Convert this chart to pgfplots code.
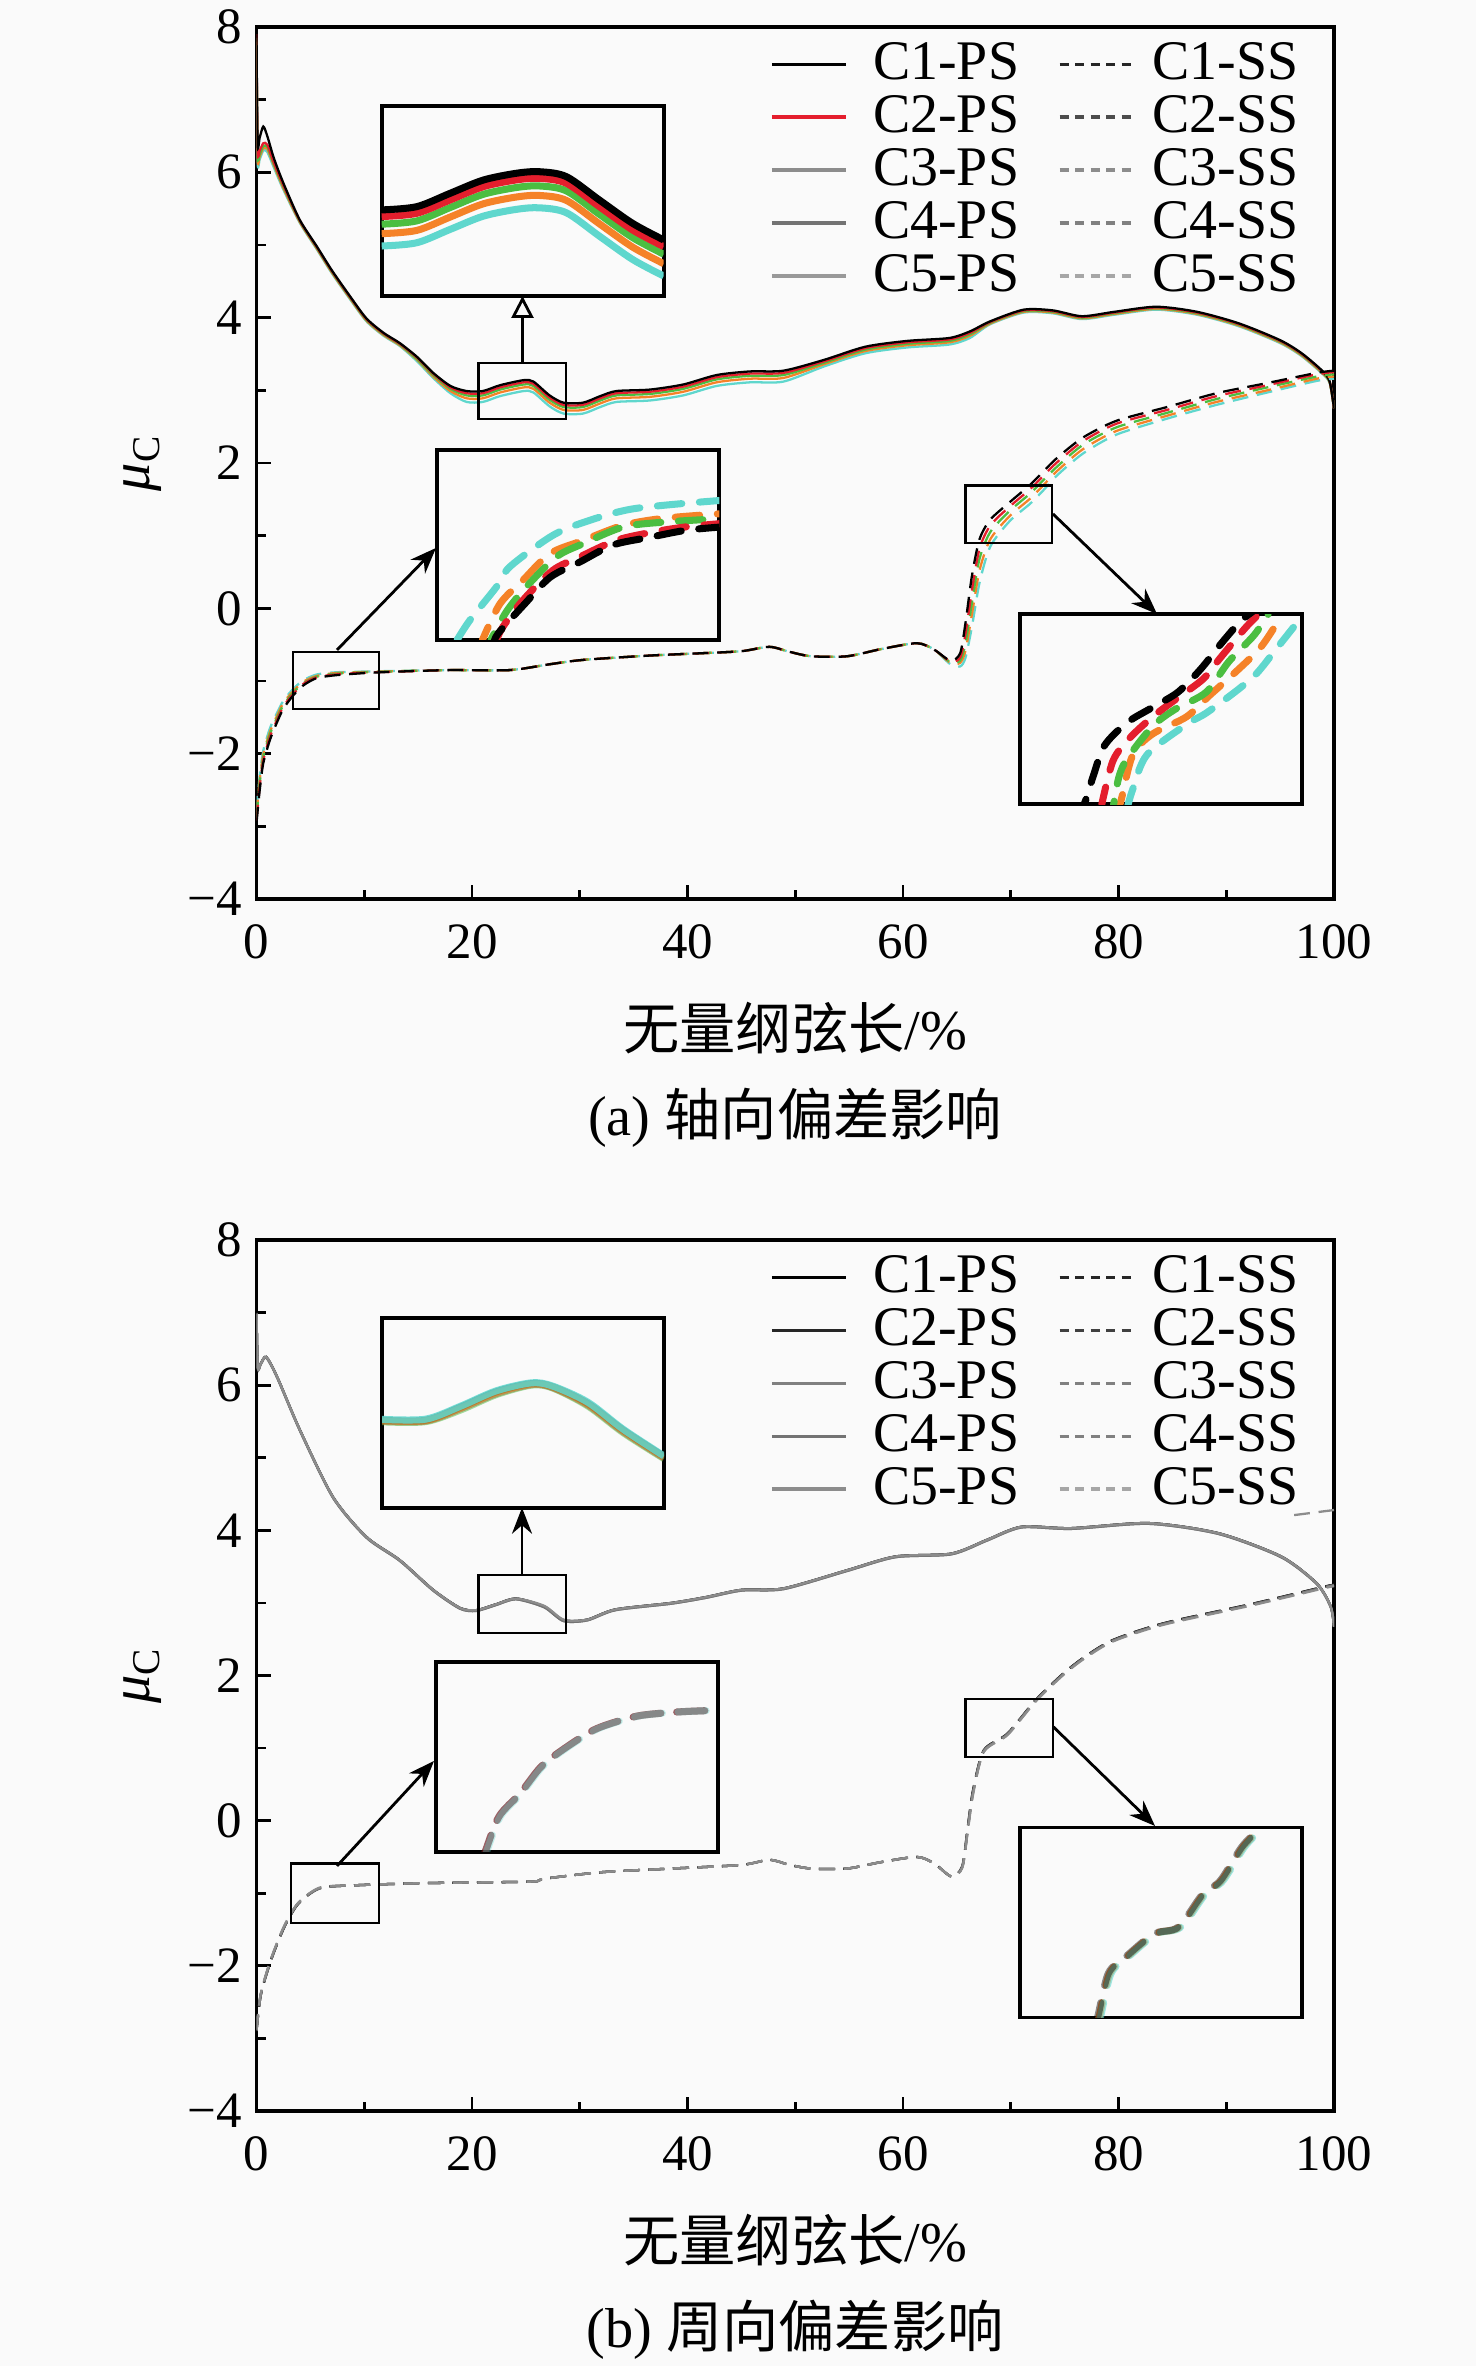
\documentclass[border=0pt]{standalone}
\usepackage{fontspec}
\setmainfont{Liberation Serif}
\newfontfamily\cjk{Noto Sans CJK SC}
\usepackage{pgfplots}
\pgfplotsset{compat=1.18}
\usepackage{pgfplotstable}
\usetikzlibrary{arrows.meta}

\definecolor{bg}{RGB}{250,250,250}
\definecolor{cA}{RGB}{0,0,0}
\definecolor{cB}{RGB}{228,30,45}
\definecolor{cC}{RGB}{75,190,65}
\definecolor{cD}{RGB}{245,130,40}
\definecolor{cE}{RGB}{95,215,205}

\newcommand{\fs}{\fontsize{16}{19}\selectfont}
\newcommand{\fl}{\fontsize{15.9}{19}\selectfont}
\newcommand{\ft}{\fontsize{14.5}{17}\selectfont}

% ---------------- (a) pressure side ----------------
\pgfplotstableread{
x c1 c2 c3 c4 c5
0 7.95 7.90 7.85 7.80 7.75
0.1 6.40 6.30 6.25 6.20 6.15
0.3 6.48 6.30 6.25 6.22 6.18
0.63 6.63 6.40 6.36 6.33 6.30
1.0 6.50 6.38 6.35 6.32 6.28
1.6 6.20 6.14 6.12 6.10 6.07
2.5 5.85 5.82 5.80 5.78 5.76
4 5.35 5.34 5.33 5.32 5.31
5.6 4.98 4.97 4.96 4.95 4.94
7 4.65 4.64 4.63 4.62 4.61
8.7 4.29 4.28 4.27 4.26 4.25
10.2 3.99 3.98 3.97 3.96 3.95
11.8 3.79 3.78 3.77 3.76 3.75
13.3 3.65 3.64 3.63 3.62 3.61
14.9 3.46 3.45 3.43 3.42 3.40
16.4 3.24 3.23 3.21 3.19 3.17
18 3.06 3.04 3.02 2.99 2.96
19.5 2.99 2.96 2.93 2.89 2.84
21 2.99 2.96 2.93 2.89 2.84
22.6 3.07 3.04 3.01 2.97 2.92
24.8 3.14 3.11 3.08 3.04 2.99
25.7 3.12 3.09 3.06 3.02 2.97
27.2 2.93 2.90 2.87 2.83 2.78
28.5 2.83 2.80 2.77 2.73 2.68
30.3 2.83 2.80 2.77 2.73 2.68
31.9 2.92 2.89 2.86 2.82 2.77
33.4 2.99 2.96 2.93 2.89 2.84
36.5 3.01 2.98 2.95 2.91 2.86
39.6 3.08 3.05 3.02 2.98 2.93
42.7 3.21 3.18 3.15 3.11 3.06
45.8 3.26 3.23 3.20 3.16 3.11
48.9 3.27 3.24 3.21 3.17 3.12
52.7 3.42 3.40 3.38 3.36 3.33
56.5 3.60 3.58 3.56 3.54 3.51
60.4 3.68 3.66 3.64 3.62 3.59
64.3 3.72 3.70 3.68 3.66 3.63
66.2 3.81 3.79 3.77 3.75 3.72
68.1 3.95 3.94 3.93 3.92 3.91
71.2 4.11 4.10 4.09 4.08 4.07
73.9 4.10 4.09 4.08 4.07 4.06
76.6 4.02 4.01 4.00 3.99 3.98
79.6 4.08 4.07 4.06 4.05 4.04
83.5 4.15 4.14 4.13 4.12 4.11
87.3 4.08 4.07 4.06 4.05 4.04
91.2 3.92 3.91 3.90 3.89 3.88
95 3.69 3.68 3.67 3.66 3.65
97 3.51 3.50 3.49 3.48 3.47
98.9 3.27 3.26 3.25 3.24 3.23
99.6 3.12 3.12 3.11 3.11 3.10
100 2.75 2.75 2.75 2.75 2.75
}\psA

% ---------------- (a) suction side ----------------
\pgfplotstableread{
x c1 c2 c3 c4 c5
0 -2.95 -2.92 -2.88 -2.85 -2.80
0.3 -2.50 -2.45 -2.40 -2.36 -2.30
0.63 -2.13 -2.09 -2.05 -2.01 -1.96
1.25 -1.81 -1.77 -1.73 -1.70 -1.65
1.87 -1.58 -1.55 -1.52 -1.49 -1.45
2.5 -1.38 -1.35 -1.33 -1.30 -1.27
3.4 -1.20 -1.18 -1.16 -1.14 -1.11
4.35 -1.06 -1.04 -1.03 -1.01 -0.99
5.6 -0.96 -0.95 -0.94 -0.93 -0.91
7.4 -0.92 -0.91 -0.90 -0.89 -0.88
10.2 -0.89 -0.885 -0.88 -0.875 -0.87
13.3 -0.87 -0.87 -0.865 -0.865 -0.86
18 -0.85 -0.85 -0.85 -0.85 -0.85
23.5 -0.85 -0.85 -0.85 -0.85 -0.85
27.2 -0.77 -0.77 -0.77 -0.77 -0.77
30.3 -0.71 -0.71 -0.71 -0.71 -0.71
36.5 -0.65 -0.65 -0.65 -0.65 -0.65
41 -0.62 -0.62 -0.62 -0.62 -0.62
45 -0.59 -0.59 -0.59 -0.59 -0.59
47.6 -0.53 -0.53 -0.53 -0.53 -0.53
49.5 -0.60 -0.60 -0.60 -0.60 -0.60
51.5 -0.66 -0.66 -0.66 -0.66 -0.66
54.8 -0.66 -0.66 -0.66 -0.66 -0.66
58 -0.56 -0.56 -0.56 -0.56 -0.56
61.3 -0.48 -0.48 -0.48 -0.48 -0.48
62.9 -0.57 -0.57 -0.57 -0.57 -0.57
64.4 -0.72 -0.73 -0.74 -0.75 -0.77
65.3 -0.62 -0.68 -0.72 -0.75 -0.80
65.8 -0.20 -0.35 -0.48 -0.58 -0.68
66.4 0.45 0.25 0.08 -0.08 -0.25
67.1 0.95 0.82 0.68 0.52 0.35
68.1 1.22 1.14 1.05 0.95 0.85
69.9 1.46 1.40 1.34 1.27 1.20
71.8 1.70 1.64 1.58 1.51 1.44
73 1.88 1.82 1.76 1.69 1.62
74.3 2.07 2.01 1.95 1.89 1.83
76.7 2.35 2.30 2.25 2.19 2.13
79.8 2.58 2.54 2.49 2.44 2.39
84.5 2.77 2.73 2.69 2.65 2.61
89.1 2.96 2.92 2.88 2.84 2.80
93.8 3.10 3.07 3.04 3.00 2.97
98.4 3.24 3.22 3.19 3.16 3.13
100 3.27 3.25 3.22 3.19 3.16
}\ssA

% ---------------- (b) pressure side ----------------
\pgfplotstableread{
x c1 c2 c3 c4 c5
0 7.00 7.00 6.99 6.99 6.98
0.12 6.25 6.25 6.24 6.24 6.25
0.4 6.30 6.30 6.29 6.29 6.30
0.9 6.39 6.39 6.38 6.38 6.39
1.9 6.12 6.12 6.11 6.11 6.12
4.04 5.38 5.38 5.37 5.37 5.38
7.1 4.46 4.46 4.45 4.45 4.46
10.2 3.91 3.91 3.90 3.90 3.91
13.3 3.59 3.59 3.58 3.58 3.59
16.4 3.18 3.18 3.17 3.17 3.18
18.9 2.93 2.93 2.92 2.92 2.93
20.4 2.90 2.90 2.89 2.89 2.90
22.2 2.98 2.98 2.97 2.97 2.98
24.1 3.06 3.06 3.05 3.05 3.06
26.7 2.95 2.95 2.94 2.94 2.96
28.5 2.76 2.76 2.75 2.75 2.77
30.7 2.77 2.77 2.76 2.76 2.77
33.3 2.91 2.91 2.90 2.90 2.91
38.5 3.00 3.00 2.99 2.99 3.00
41.7 3.08 3.08 3.07 3.07 3.08
45 3.18 3.18 3.17 3.17 3.18
48.9 3.20 3.20 3.19 3.19 3.20
54.8 3.45 3.45 3.44 3.44 3.45
59.3 3.64 3.64 3.63 3.63 3.64
64.5 3.68 3.68 3.67 3.67 3.68
67.8 3.87 3.87 3.86 3.86 3.87
71 4.05 4.05 4.04 4.04 4.05
75.6 4.03 4.03 4.02 4.02 4.03
82.8 4.10 4.10 4.09 4.09 4.10
89.3 3.96 3.96 3.95 3.95 3.96
95.1 3.64 3.64 3.63 3.63 3.64
98.4 3.27 3.27 3.26 3.26 3.27
99.7 2.95 2.95 2.94 2.94 2.95
100 2.67 2.67 2.67 2.67 2.67
}\psB

% ---------------- (b) suction side ----------------
\pgfplotstableread{
x c1 c2 c3 c4 c5
0 -2.90 -2.90 -2.89 -2.89 -2.88
0.4 -2.40 -2.40 -2.39 -2.39 -2.38
1.35 -1.92 -1.92 -1.91 -1.91 -1.90
2.6 -1.46 -1.46 -1.45 -1.45 -1.44
3.9 -1.14 -1.14 -1.13 -1.13 -1.13
5.9 -0.93 -0.93 -0.93 -0.93 -0.92
9.2 -0.89 -0.89 -0.89 -0.89 -0.89
15.7 -0.86 -0.86 -0.86 -0.86 -0.86
25.4 -0.84 -0.84 -0.84 -0.84 -0.84
26.7 -0.80 -0.80 -0.80 -0.80 -0.80
32 -0.71 -0.71 -0.71 -0.71 -0.71
38.5 -0.66 -0.66 -0.66 -0.66 -0.66
45 -0.61 -0.61 -0.61 -0.61 -0.61
47.6 -0.54 -0.54 -0.54 -0.54 -0.54
49.5 -0.61 -0.61 -0.61 -0.61 -0.61
51.5 -0.66 -0.66 -0.66 -0.66 -0.66
54.8 -0.66 -0.66 -0.66 -0.66 -0.66
58 -0.57 -0.57 -0.57 -0.57 -0.57
61.3 -0.50 -0.50 -0.50 -0.50 -0.50
62.9 -0.59 -0.59 -0.59 -0.59 -0.59
64.5 -0.77 -0.77 -0.77 -0.77 -0.77
65.5 -0.63 -0.63 -0.64 -0.64 -0.65
66 -0.10 -0.11 -0.13 -0.14 -0.16
66.5 0.42 0.41 0.39 0.38 0.36
67.5 0.97 0.97 0.96 0.95 0.95
69.7 1.20 1.20 1.19 1.19 1.18
72.3 1.66 1.66 1.65 1.65 1.64
74.9 2.03 2.03 2.02 2.02 2.01
76.9 2.26 2.26 2.25 2.25 2.24
79.5 2.49 2.49 2.48 2.48 2.47
84.2 2.72 2.72 2.71 2.71 2.70
92.5 2.99 2.99 2.98 2.98 2.97
99 3.22 3.22 3.21 3.21 3.20
100 3.25 3.25 3.24 3.24 3.23
}\ssB

% ---------------- inset tables (normalised inset coordinates) ----------------
\pgfplotstableread{
fx c1 c2 c3 c4 c5
0 0.453 0.418 0.378 0.328 0.263
0.124 0.470 0.435 0.395 0.345 0.280
0.242 0.540 0.505 0.465 0.415 0.350
0.360 0.610 0.575 0.535 0.485 0.420
0.478 0.646 0.611 0.571 0.521 0.456
0.560 0.654 0.619 0.579 0.529 0.464
0.655 0.628 0.593 0.553 0.503 0.438
0.772 0.505 0.470 0.430 0.380 0.315
0.890 0.382 0.347 0.307 0.257 0.192
1.000 0.295 0.260 0.220 0.170 0.105
}\insAa

\pgfplotstableread{
fx c1 c2 c3 c4 c5
0 0.460 0.455 0.452 0.458 0.465
0.155 0.460 0.456 0.453 0.458 0.466
0.28 0.530 0.522 0.515 0.525 0.535
0.405 0.610 0.600 0.595 0.605 0.615
0.53 0.653 0.648 0.645 0.650 0.657
0.605 0.636 0.632 0.630 0.635 0.640
0.73 0.548 0.540 0.535 0.545 0.555
0.855 0.408 0.400 0.395 0.405 0.413
1 0.268 0.262 0.258 0.265 0.272
}\insBa

\pgfplotsset{
  mainax/.style={
    scale only axis, width=10.775cm, height=8.72cm, anchor=south west,
    xmin=0, xmax=100, ymin=-4, ymax=8,
    xtick={0,20,...,100}, minor x tick num=1,
    ytick={-4,-2,...,8}, yticklabels={−4,−2,0,2,4,6,8}, minor y tick num=1,
    tick align=inside, xtick pos=left, ytick pos=left,
    major tick length=1.4mm, minor tick length=0.9mm,
    every tick/.style={black, line width=0.8pt},
    axis line style={line width=0.9pt},
    tick label style={font=\ft},
    /pgf/number format/assume math mode=true,
    xticklabel style={yshift=-1.3mm},
    yticklabel style={xshift=-0.25mm},
    xlabel style={at={(0.5,-0.148)}, anchor=center, font=\fs},
    ylabel style={at={(-0.1053,0.5)}, anchor=center, font=\fs},
    legend columns=2, legend cell align=left,
    legend style={draw=none, fill=none, at={(0.9675,0.9825)}, anchor=north east,
      font=\fl, inner sep=0pt, row sep=3.05pt,
      nodes={inner sep=0pt},
      /tikz/column 1/.style={column sep=2.57mm},
      /tikz/column 2/.style={column sep=3.9mm},
      /tikz/column 3/.style={column sep=1.7mm}},
    legend image code/.code={\draw[##1] (0mm,0mm) -- (7.4mm,0mm);},
  },
  psM/.style={line width=0.65pt, smooth, tension=0.45, forget plot, no markers},
  ssM/.style={line width=0.65pt, dash pattern=on 4.5pt off 2.5pt, smooth, tension=0.45, forget plot, no markers},
  lgP/.style={line width=0.9pt, solid},
  lgS/.style={line width=0.9pt, dash pattern=on 2.6pt off 1.8pt},
  inax/.style={scale only axis, width=2.82cm, height=1.90cm, anchor=south west,
    xmin=0, xmax=1, ymin=0, ymax=1, ticks=none,
    axis line style={line width=1.1pt}, axis background/.style={fill=bg}},
  inP/.style={line width=2pt, smooth, tension=0.5, no markers},
  inS/.style={line width=2pt, line cap=round, dash pattern=on 7pt off 5pt, smooth, tension=0.5, no markers},
}

\begin{document}
\begin{tikzpicture}
\fill[bg] (0,0) rectangle (14.76,23.66);
\path[use as bounding box] (0,0) rectangle (14.76,23.66);

% =================== (a) ===================
\begin{axis}[mainax, at={(2.565cm,14.67cm)},
  xlabel={{\cjk 无量纲弦长}/\%}, ylabel={{\itshape μ}\textsubscript{C}}]
\addlegendimage{lgP, black}\addlegendentry{C1-PS}
\addlegendimage{lgS, black!85}\addlegendentry{C1-SS}
\addlegendimage{lgP, cB}\addlegendentry{C2-PS}
\addlegendimage{lgS, black!70}\addlegendentry{C2-SS}
\addlegendimage{lgP, black!45}\addlegendentry{C3-PS}
\addlegendimage{lgS, black!45}\addlegendentry{C3-SS}
\addlegendimage{lgP, black!55}\addlegendentry{C4-PS}
\addlegendimage{lgS, black!50}\addlegendentry{C4-SS}
\addlegendimage{lgP, black!40}\addlegendentry{C5-PS}
\addlegendimage{lgS, black!35}\addlegendentry{C5-SS}
\addplot[psM, cE] table[x=x, y=c5] {\psA};
\addplot[psM, cD] table[x=x, y=c4] {\psA};
\addplot[psM, cC] table[x=x, y=c3] {\psA};
\addplot[psM, cB] table[x=x, y=c2] {\psA};
\addplot[psM, cA] table[x=x, y=c1] {\psA};
\addplot[ssM, cE] table[x=x, y=c5] {\ssA};
\addplot[ssM, cD] table[x=x, y=c4] {\ssA};
\addplot[ssM, cC] table[x=x, y=c3] {\ssA};
\addplot[ssM, cB] table[x=x, y=c2] {\ssA};
\addplot[ssM, cA] table[x=x, y=c1] {\ssA};
\draw[line width=0.6pt] (axis cs:20.6,2.60) rectangle (axis cs:28.7,3.37);
\draw[line width=0.6pt] (axis cs:3.36,-1.39) rectangle (axis cs:11.35,-0.60);
\draw[line width=0.6pt] (axis cs:65.8,0.90) rectangle (axis cs:73.8,1.69);
\end{axis}

% inset a1 (pressure side bump)
\begin{axis}[inax, at={(3.817cm,20.70cm)}]
\addplot[inP, cE] table[x=fx, y=c5] {\insAa};
\addplot[inP, cD] table[x=fx, y=c4] {\insAa};
\addplot[inP, cC] table[x=fx, y=c3] {\insAa};
\addplot[inP, cB] table[x=fx, y=c2] {\insAa};
\addplot[inP, cA] table[x=fx, y=c1] {\insAa};
\end{axis}

% inset a2 (suction side, leading edge)
\begin{axis}[inax, at={(4.373cm,17.26cm)}]
\addplot[inS, cE] coordinates {(0.07,0.0) (0.116,0.105) (0.21,0.28) (0.257,0.385) (0.40,0.542) (0.505,0.612) (0.693,0.69) (1,0.734)};
\addplot[inS, cD, dash phase=3pt] coordinates {(0.16,0.0) (0.222,0.19) (0.304,0.315) (0.40,0.455) (0.517,0.524) (0.658,0.603) (0.8,0.64) (1,0.664)};
\addplot[inS, cC, dash phase=5pt] coordinates {(0.19,0.0) (0.245,0.149) (0.316,0.28) (0.422,0.437) (0.517,0.507) (0.658,0.594) (0.8,0.62) (1,0.638)};
\addplot[inS, cB, dash phase=1pt] coordinates {(0.21,0.0) (0.233,0.07) (0.304,0.21) (0.41,0.367) (0.505,0.437) (0.634,0.524) (0.764,0.568) (0.88,0.595) (1,0.612)};
\addplot[inS, cA, dash phase=2pt] coordinates {(0.20,-0.02) (0.216,0.035) (0.31,0.19) (0.40,0.33) (0.505,0.41) (0.623,0.50) (0.752,0.54) (0.88,0.577) (1,0.594)};
\end{axis}

% inset a3 (suction side, shock region)
\begin{axis}[inax, at={(10.20cm,15.617cm)}]
\addplot[inS, cE, dash pattern=on 6pt off 5pt] coordinates {(0.38,-0.02) (0.40,0.08) (0.45,0.26) (0.59,0.42) (0.66,0.48) (0.77,0.60) (0.84,0.69) (0.91,0.82) (0.98,0.95) (1.0,0.98)};
\addplot[inS, cD, dash pattern=on 6pt off 5pt, dash phase=2pt] coordinates {(0.35,-0.02) (0.36,0.03) (0.40,0.26) (0.47,0.37) (0.59,0.46) (0.67,0.57) (0.76,0.69) (0.85,0.82) (0.91,0.95) (0.93,1.0)};
\addplot[inS, cC, dash pattern=on 6pt off 5pt, dash phase=4pt] coordinates {(0.33,-0.02) (0.35,0.14) (0.38,0.24) (0.47,0.41) (0.55,0.50) (0.66,0.59) (0.74,0.75) (0.83,0.89) (0.88,1.0)};
\addplot[inS, cB, dash pattern=on 6pt off 5pt, dash phase=1pt] coordinates {(0.29,0.0) (0.33,0.23) (0.39,0.35) (0.47,0.46) (0.55,0.55) (0.65,0.66) (0.71,0.77) (0.80,0.93) (0.86,1.02)};
\addplot[inS, cA, dash pattern=on 6pt off 5pt, dash phase=3pt] coordinates {(0.215,-0.02) (0.23,0.01) (0.26,0.15) (0.30,0.31) (0.38,0.43) (0.47,0.51) (0.56,0.59) (0.64,0.71) (0.71,0.84) (0.78,0.96) (0.83,1.02)};
\end{axis}

\draw[line width=0.8pt, -{Triangle[open, length=2.2mm, width=2.2mm]}] (5.225,20.03) -- (5.225,20.70);
\draw[line width=0.8pt, -{Stealth[length=2.6mm, width=2mm]}] (3.37,17.16) -- (4.36,18.18);
\draw[line width=0.8pt, -{Stealth[length=2.6mm, width=2mm]}] (10.53,18.52) -- (11.57,17.52);
\node[font=\fs] at (7.95,12.48) {(a) {\cjk 轴向偏差影响}};

% =================== (b) ===================
\begin{axis}[mainax, at={(2.565cm,2.55cm)}, height=8.71cm,
  xlabel={{\cjk 无量纲弦长}/\%}, ylabel={{\itshape μ}\textsubscript{C}}]
\addlegendimage{lgP, black}\addlegendentry{C1-PS}
\addlegendimage{lgS, black!85}\addlegendentry{C1-SS}
\addlegendimage{lgP, black!85}\addlegendentry{C2-PS}
\addlegendimage{lgS, black!75}\addlegendentry{C2-SS}
\addlegendimage{lgP, black!50}\addlegendentry{C3-PS}
\addlegendimage{lgS, black!50}\addlegendentry{C3-SS}
\addlegendimage{lgP, black!55}\addlegendentry{C4-PS}
\addlegendimage{lgS, black!50}\addlegendentry{C4-SS}
\addlegendimage{lgP, black!45}\addlegendentry{C5-PS}
\addlegendimage{lgS, black!35}\addlegendentry{C5-SS}
\addplot[psM, black] table[x=x, y=c1] {\psB};
\addplot[psM, black!80] table[x=x, y=c2] {\psB};
\addplot[psM, black!50] table[x=x, y=c3] {\psB};
\addplot[psM, black!55] table[x=x, y=c4] {\psB};
\addplot[psM, black!45] table[x=x, y=c5] {\psB};
\addplot[ssM, black] table[x=x, y=c1] {\ssB};
\addplot[ssM, black!80] table[x=x, y=c2] {\ssB};
\addplot[ssM, black!50] table[x=x, y=c3] {\ssB};
\addplot[ssM, black!55] table[x=x, y=c4] {\ssB};
\addplot[ssM, black!45] table[x=x, y=c5] {\ssB};
\addplot[ssM, black!45] coordinates {(96.3,4.21) (100,4.28)};
\draw[line width=0.6pt] (axis cs:20.6,2.59) rectangle (axis cs:28.7,3.38);
\draw[line width=0.6pt] (axis cs:3.2,-1.41) rectangle (axis cs:11.38,-0.59);
\draw[line width=0.6pt] (axis cs:65.8,0.88) rectangle (axis cs:73.9,1.68);
\end{axis}

% inset b1
\begin{axis}[inax, at={(3.82cm,8.583cm)}]
\addplot[inP, cA, opacity=0.7] table[x=fx, y=c1] {\insBa};
\addplot[inP, cB, opacity=0.5] table[x=fx, y=c2] {\insBa};
\addplot[inP, cC, opacity=0.5] table[x=fx, y=c3] {\insBa};
\addplot[inP, cD, opacity=0.5] table[x=fx, y=c4] {\insBa};
\addplot[inP, cE, opacity=0.85] table[x=fx, y=c5] {\insBa};
\end{axis}

% inset b2
\begin{axis}[inax, at={(4.36cm,5.14cm)}]
\addplot[inS, cA, opacity=0.5, dash pattern=on 8pt off 4.5pt] coordinates {(0.16,-0.05) (0.174,0) (0.223,0.186) (0.298,0.308) (0.372,0.448) (0.447,0.536) (0.558,0.641) (0.658,0.694) (0.732,0.72) (0.856,0.737) (0.993,0.746) (1,0.747)};
\addplot[inS, cB, opacity=0.3, dash pattern=on 8pt off 4.5pt] coordinates {(0.16,-0.05) (0.174,0) (0.223,0.186) (0.298,0.308) (0.372,0.448) (0.447,0.536) (0.558,0.641) (0.658,0.694) (0.732,0.72) (0.856,0.737) (0.993,0.746) (1,0.747)};
\addplot[inS, cE, opacity=0.35, dash pattern=on 8pt off 4.5pt] coordinates {(0.165,-0.05) (0.179,0) (0.228,0.186) (0.303,0.308) (0.377,0.448) (0.452,0.536) (0.563,0.641) (0.663,0.694) (0.737,0.72) (0.861,0.737) (0.998,0.746) (1,0.747)};
\end{axis}

% inset b3
\begin{axis}[inax, at={(10.20cm,3.485cm)}]
\addplot[inS, cD, opacity=0.8, dash pattern=on 6pt off 5pt] coordinates {(0.27,-0.02) (0.28,0) (0.318,0.232) (0.38,0.32) (0.479,0.44) (0.566,0.476) (0.653,0.65) (0.715,0.72) (0.79,0.895) (0.851,0.991) (0.86,1.01)};
\addplot[inS, cE, opacity=0.6, dash pattern=on 6pt off 5pt] coordinates {(0.275,-0.02) (0.285,0) (0.323,0.232) (0.385,0.32) (0.484,0.44) (0.571,0.476) (0.658,0.65) (0.72,0.72) (0.795,0.895) (0.856,0.991) (0.865,1.01)};
\addplot[inS, cA, opacity=0.45, dash pattern=on 6pt off 5pt] coordinates {(0.265,-0.02) (0.275,0) (0.313,0.232) (0.375,0.32) (0.474,0.44) (0.561,0.476) (0.648,0.65) (0.71,0.72) (0.785,0.895) (0.846,0.991) (0.855,1.01)};
\end{axis}

\draw[line width=0.8pt, -{Stealth[length=2.6mm, width=2mm]}] (5.22,7.91) -- (5.22,8.583);
\draw[line width=0.8pt, -{Stealth[length=2.6mm, width=2mm]}] (3.37,5.00) -- (4.34,6.05);
\draw[line width=0.8pt, -{Stealth[length=2.6mm, width=2mm]}] (10.535,6.39) -- (11.55,5.40);
\node[font=\fs] at (7.95,0.36) {(b) {\cjk 周向偏差影响}};
\end{tikzpicture}
\end{document}
